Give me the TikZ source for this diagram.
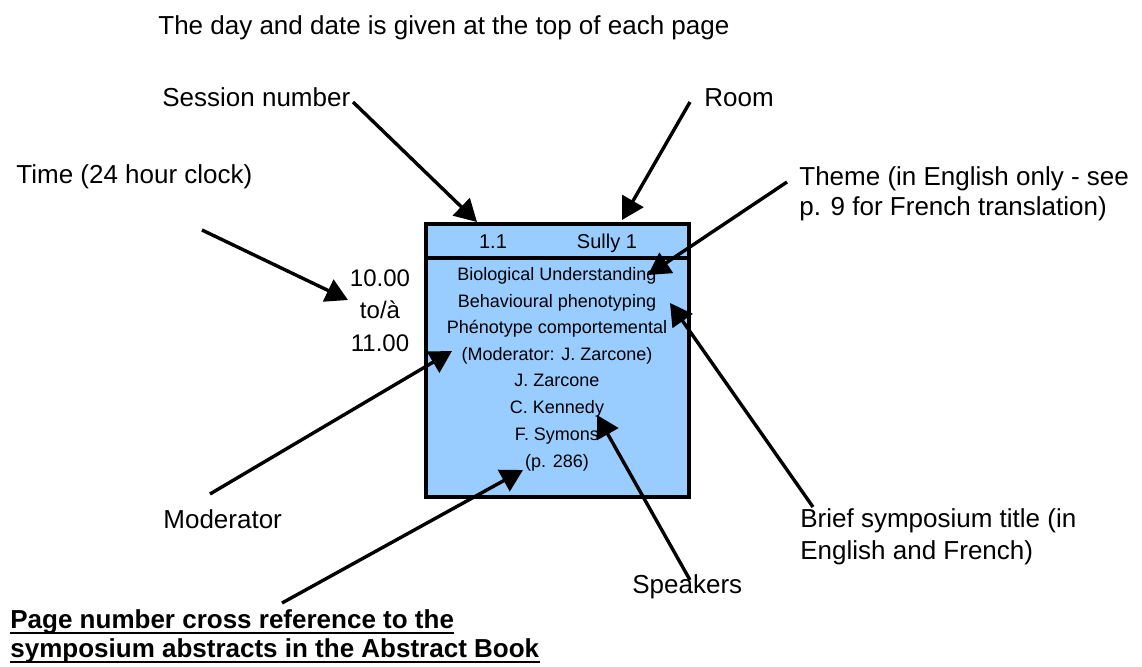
\documentclass[tikz,border=0pt]{standalone}
\usepackage{fontspec}
\setmainfont{Liberation Sans}
\usepackage{tikz}
\usetikzlibrary{arrows.meta,positioning,calc}
\definecolor{boxblue}{HTML}{99CCFF}

\begin{document}
\begin{tikzpicture}[
	x = 0.5pt, y = -0.5pt,
	every node/.style = {inner sep = 0pt},
	lbl/.style = {anchor = base west, font = \fontsize{13}{15}\selectfont},
	xref/.style = {lbl, font = \fontsize{13}{15}\selectfont\bfseries},
	cell/.style = {anchor = base, font = \fontsize{9}{11}\selectfont},
	head/.style = {anchor = base, font = \fontsize{10}{12}\selectfont},
	clock/.style = {anchor = base, font = \fontsize{12}{14}\selectfont},
	pointer/.style = {line width = 1.7pt, -{Triangle[length=11pt,width=12pt]}}
	]

	\def\bxl{426}
	\def\bxr{689}
	\def\bxt{224}
	\def\bxb{497}

	\useasboundingbox (0,0) rectangle (1142,666);

	\draw[line width=1.8pt, fill=boxblue] (\bxl,\bxt) rectangle (\bxr,\bxb);
	\draw[line width=1.8pt] (\bxl,258) -- (\bxr,258);

	\node[head] (sessno) at (493,248) {1.1};
	\node[head] (roomno) at (607,248) {Sully 1};

	\foreach \y/\t [count=\i] in {280/Biological Understanding, 307/Behavioural phenotyping,
		333/Phénotype comportemental, 360/(Moderator: J. Zarcone), 386/J. Zarcone,
		413/C. Kennedy, 440/F. Symons, 467/(p. 286)}
		\node[cell] (row\i) at (557,\y) {\t};

	\node[clock] (tfrom) at (380,286) {10.00};
	\node[clock] (tsep) at (380,318) {to/à};
	\node[clock] (tto) at (380,351) {11.00};

	\node[lbl] (daydate) at (158,34) {The day and date is given at the top of each page};
	\node[lbl] (session) at (162,106) {Session number};
	\node[lbl] (room) at (704,106) {Room};
	\node[lbl] (time) at (16,183) {Time (24 hour clock)};
	\node[lbl] (theme) at (799,185) {Theme (in English only - see};
	\node[lbl] (themeb) at (799,215) {p. 9 for French translation)};
	\node[lbl] (moder) at (163,528) {Moderator};
	\node[lbl] (brief) at (800,527) {Brief symposium title (in};
	\node[lbl] (briefb) at (800,559) {English and French)};
	\node[lbl] (speak) at (632,593) {Speakers};
	\node[xref] (pageref) at (10,628) {Page number cross reference to the\ };
	\node[xref] (pagerefb) at (10,657) {symposium abstracts in the Abstract Book};
	\draw[line width=1pt] ([yshift=-2.5pt]pageref.base west) -- ([yshift=-2.5pt]pageref.base east);
	\draw[line width=1pt] ([yshift=-2.5pt]pagerefb.base west) -- ([yshift=-2.5pt]pagerefb.base east);

	\coordinate (sessTail) at (353,102);   \coordinate (sessTip) at (477,222);
	\coordinate (roomTail) at (690,102);   \coordinate (roomTip) at (622,220);
	\coordinate (timeTail) at (202,230);   \coordinate (timeTip) at (348,300);
	\coordinate (themeTail) at (787,182);  \coordinate (themeTip) at (648,275);
	\coordinate (moderTail) at (210,494);  \coordinate (moderTip) at (452,351);
	\coordinate (pageTail) at (282,603);   \coordinate (pageTip) at (523,470);
	\coordinate (speakTail) at (690,580);  \coordinate (speakTip) at (597,415);
	\coordinate (briefTail) at (813,507);  \coordinate (briefTip) at (670,303);

	\draw[pointer] (sessTail) -- (sessTip);
	\draw[pointer] (roomTail) -- (roomTip);
	\draw[pointer] (timeTail) -- (timeTip);
	\draw[pointer] (themeTail) -- (themeTip);
	\draw[pointer] (moderTail) -- (moderTip);
	\draw[pointer] (pageTail) -- (pageTip);
	\draw[pointer] (speakTail) -- (speakTip);
	\draw[pointer] (briefTail) -- (briefTip);

\end{tikzpicture}
\end{document}
